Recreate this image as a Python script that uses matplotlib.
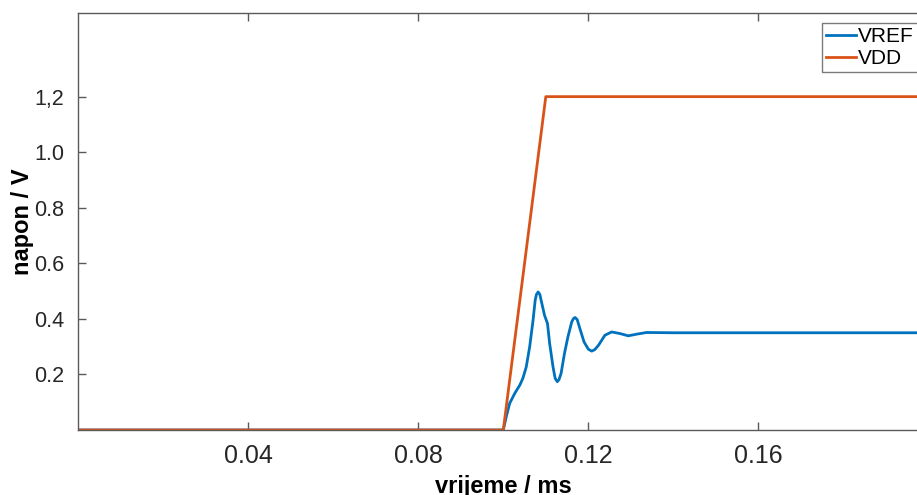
import matplotlib
matplotlib.use("Agg")
import matplotlib.pyplot as plt

# VREF readout (ms, V)
t_vref = [0.0, 0.1000, 0.1007, 0.1015, 0.1027, 0.1039, 0.1046, 0.1054, 0.1062,
          0.1070, 0.1075, 0.1078, 0.1082, 0.1086, 0.1089, 0.1097, 0.1104,
          0.1109, 0.1117, 0.1122, 0.1127, 0.1131, 0.1136, 0.1144, 0.1152,
          0.1161, 0.1165, 0.1169, 0.1174, 0.1179, 0.1190, 0.1200, 0.1208,
          0.1215, 0.1224, 0.1239, 0.1255, 0.1275, 0.1294, 0.1314, 0.1337,
          0.1400, 0.2000]
v_vref = [0.0, 0.0, 0.048, 0.096, 0.132, 0.162, 0.186, 0.227, 0.299,
          0.395, 0.467, 0.488, 0.497, 0.488, 0.467, 0.413, 0.383,
          0.312, 0.227, 0.186, 0.174, 0.181, 0.204, 0.276, 0.335,
          0.389, 0.401, 0.405, 0.397, 0.371, 0.317, 0.291, 0.284,
          0.289, 0.305, 0.341, 0.353, 0.347, 0.339, 0.345, 0.351,
          0.350, 0.350]

# VDD ramp
t_vdd = [0.0, 0.100, 0.110, 0.200]
v_vdd = [0.0, 0.0, 1.2, 1.2]

xticks = [0.04, 0.08, 0.12, 0.16]
xlabels = ["0.04", "0.08", "0.12", "0.16"]
yticks = [0.2, 0.4, 0.6, 0.8, 1.0, 1.2]
ylabels = ["0.2", "0.4", "0.6", "0.8", "1.0", "1,2"]

plt.rcParams['font.family'] = ['Liberation Sans', 'DejaVu Sans']

W, H = 917, 495
fig = plt.figure(figsize=(W / 100, H / 100), dpi=100)
# axes run past the right edge (picture is cropped there)
left, right, top, bottom = 78.3, 928.3, 13.3, 430
ax = fig.add_axes([left / W, 1 - bottom / H, (right - left) / W, (bottom - top) / H])

ax.plot(t_vref, v_vref, color="#0072BD", lw=2.0, label="VREF", solid_joinstyle="round")
ax.plot(t_vdd, v_vdd, color="#D95319", lw=2.0, label="VDD")

ax.set_xlim(0, 0.2)
ax.set_ylim(0, 1.5)
ax.set_xticks(xticks)
ax.set_xticklabels(xlabels)
ax.set_yticks(yticks)
ax.set_yticklabels(ylabels)

gray = "#262626"
for s in ax.spines.values():
    s.set_color("#5a5a5a")
    s.set_linewidth(1.0)
ax.tick_params(direction="in", length=6, width=1.0, colors="#5a5a5a",
               labelcolor=gray, top=True, right=True, pad=10)
ax.tick_params(axis="x", labelsize=18)
ax.tick_params(axis="y", labelsize=15.5)

ax.set_xlabel("vrijeme / ms", fontsize=17, fontweight="bold", color="black", labelpad=5)
ax.set_ylabel("napon / V", fontsize=17, fontweight="bold", color="black", labelpad=0)

leg = ax.legend(loc="upper left", bbox_to_anchor=((821.7 - left) / (right - left), 1 - (22.7 - top) / (bottom - top)),
                fontsize=15, frameon=True, fancybox=False, borderaxespad=0,
                handlelength=1.45, handletextpad=0.08, borderpad=0.2, labelspacing=0.15)
leg.get_frame().set_edgecolor("#5a5a5a")
leg.get_frame().set_linewidth(1.0)

fig.savefig("out.png", dpi=100)
